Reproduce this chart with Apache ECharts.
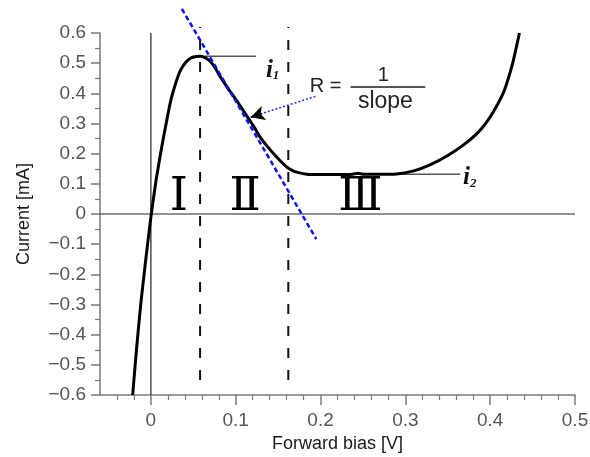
<!DOCTYPE html>
<html><head><meta charset="utf-8">
<script src="https://cdn.jsdelivr.net/npm/echarts@6/dist/echarts.min.js"></script>
<style>html,body{margin:0;padding:0;background:#fff}#c{width:590px;height:457px}</style>
</head><body><div id="c"></div>
<script>
// ---- data ----
const curve = [[-0.0215,-0.6],[-0.017,-0.45],[-0.012,-0.3],[-0.006,-0.15],[0,-0.01],[0.006,0.11],[0.012,0.21],[0.018,0.3],[0.0235,0.377],[0.03,0.44],[0.035,0.477],[0.041,0.502],[0.047,0.517],[0.053,0.522],[0.058,0.523],[0.064,0.518],[0.0706,0.504],[0.076,0.483],[0.082,0.454],[0.09,0.42],[0.098,0.388],[0.106,0.355],[0.114,0.321],[0.122,0.287],[0.129,0.254],[0.137,0.225],[0.145,0.199],[0.153,0.175],[0.161,0.154],[0.167,0.144],[0.173,0.138],[0.184,0.132],[0.2,0.131],[0.22,0.131],[0.238,0.132],[0.244,0.135],[0.25,0.132],[0.27,0.132],[0.286,0.132],[0.294,0.134],[0.31,0.143],[0.329,0.163],[0.35,0.194],[0.369,0.23],[0.385,0.268],[0.396,0.305],[0.407,0.355],[0.416,0.405],[0.422,0.455],[0.427,0.505],[0.431,0.555],[0.4345,0.6]];
const tangent = [[0.0365,0.68],[0.195,-0.083]];
const regionBounds = [0.058,0.162];
const dashedRange = [-0.55,0.62];
const i1Line = [[0.058,0.523],[0.124,0.523]];
const i2Line = [[0.18,0.1317],[0.3647,0.1317]];
const arrowLine = [[0.194,0.39],[0.1176,0.321]];
const arrowHead = [[0.1311,0.333],[0.1176,0.321]];
const fracLine = [[0.2353,0.421],[0.3235,0.421]];
const romanLabels = ['Ⅰ','Ⅱ','Ⅲ'];
const romanX = [0.033,0.111,0.247];
const romanY = 0.052;
const xMajor = [0,0.1,0.2,0.3,0.4,0.5];
const xMinor = [-0.04,-0.02,0.02,0.04,0.06,0.08,0.12,0.14,0.16,0.18,0.22,0.24,0.26,0.28,0.32,0.34,0.36,0.38,0.42,0.44,0.46,0.48];
const xRange = [-0.06,0.5];
const yRange = [-0.6,0.6];

const fmt = v => { const r = Math.round(v*10)/10; if (r===0) return '0'; return (r<0?'\u2212':'') + Math.abs(r).toFixed(1); };
const sans = 'Liberation Sans, Arial, sans-serif';
const gray = '#7a7a7a';

function seg(data, style, z) {
  return {type:'line', data, showSymbol:false, symbol:'none', clip:false, silent:true, z:z||2, lineStyle:style};
}
function txt(x,y,formatter,style){
  return {type:'scatter', symbolSize:1, itemStyle:{color:'transparent', opacity:1}, silent:true, z:5,
    data:[[x,y]], label:Object.assign({show:true, position:'inside', opacity:1, formatter}, style)};
}
const iRich = {a:{fontFamily:'Liberation Serif',fontStyle:'italic',fontWeight:'bold',fontSize:25,color:'#111',verticalAlign:'top'},
               b:{fontFamily:'Liberation Serif',fontStyle:'italic',fontWeight:'bold',fontSize:13,color:'#111',verticalAlign:'top',padding:[12,0,0,0]}};

const series = [
  seg([[xRange[0],0],[xRange[1],0]], {color:'#222', width:1.2}, 1),
  seg([[0,yRange[0]],[0,yRange[1]]], {color:'#222', width:1.2}, 1),
  ...regionBounds.map(x => seg([[x,dashedRange[0]],[x,dashedRange[1]]], {color:'#111', width:2, type:[10,12]}, 1)),
  seg(i1Line, {color:'#555', width:1.5}, 1),
  seg(i2Line, {color:'#555', width:1.5}, 1),
  {type:'line', data:curve, smooth:0.2, showSymbol:false, symbol:'none', clip:false, silent:true, z:3, lineStyle:{color:'#000', width:3}},
  seg(tangent, {color:'#1010ee', width:2.5, type:[5,3]}, 4),
  seg(arrowLine, {color:'#2a2aff', width:1.5, type:[2,2]}, 4),
  {type:'line', data:[], silent:true, markLine:{silent:true, symbol:['none','arrow'], symbolSize:[11,14], label:{show:false},
     lineStyle:{color:'#000', width:1.5, type:'solid'}, data:[[{coord:arrowHead[0]},{coord:arrowHead[1]}]]}},
  seg(fracLine, {color:'#555', width:2}, 4),
  txt(0.206,0.423,'R =',{fontFamily:sans, fontSize:20, color:'#222'}),
  txt(0.274,0.46,'1',{fontFamily:sans, fontSize:20, color:'#222'}),
  txt(0.2765,0.372,'slope',{fontFamily:sans, fontSize:23, color:'#222'}),
  ...romanLabels.map((t,i)=>txt(romanX[i],romanY,t,{fontFamily:'DejaVu Serif, Liberation Serif, serif', fontSize:46, color:'#000'})),
  txt(0.1435,0.477,'{a|i}{b|1}',{rich:iRich}),
  txt(0.376,0.12,'{a|i}{b|2}',{rich:iRich})
];

const chart = echarts.init(document.getElementById('c'), null, {renderer:'canvas'});
chart.setOption({
  animation:false,
  backgroundColor:'#fff',
  grid:{left:100, right:15, top:33, bottom:62, containLabel:false, outerBoundsMode:'none'},
  xAxis:[
    {type:'value', min:xRange[0], max:xRange[1], position:'bottom',
     name:'Forward bias [V]', nameLocation:'middle', nameGap:37,
     nameTextStyle:{fontFamily:sans, fontSize:18, color:'#1a1a1a'},
     axisLine:{show:true, onZero:false, lineStyle:{color:gray, width:1.5}},
     axisTick:{show:true, customValues:xMajor, length:10, lineStyle:{color:gray, width:1.5}},
     axisLabel:{show:true, customValues:xMajor, formatter:fmt, margin:16, fontFamily:sans, fontSize:19, color:'#555'},
     splitLine:{show:false}},
    {type:'value', min:xRange[0], max:xRange[1], position:'bottom',
     axisLine:{show:false, onZero:false},
     axisTick:{show:true, customValues:xMinor, length:5, lineStyle:{color:gray, width:1.2}},
     axisLabel:{show:false}, splitLine:{show:false}}
  ],
  yAxis:{type:'value', min:yRange[0], max:yRange[1], interval:0.1,
     name:'Current [mA]', nameLocation:'middle', nameGap:67,
     nameTextStyle:{fontFamily:sans, fontSize:18, color:'#1a1a1a'},
     axisLine:{show:true, onZero:false, lineStyle:{color:gray, width:1.5}},
     axisTick:{show:true, length:9, lineStyle:{color:gray, width:1.5}},
     minorTick:{show:true, splitNumber:2, length:5, lineStyle:{color:gray, width:1.2}},
     axisLabel:{formatter:fmt, margin:14, fontFamily:sans, fontSize:19, color:'#555'},
     splitLine:{show:false}, minorSplitLine:{show:false}},
  series
});
</script></body></html>
